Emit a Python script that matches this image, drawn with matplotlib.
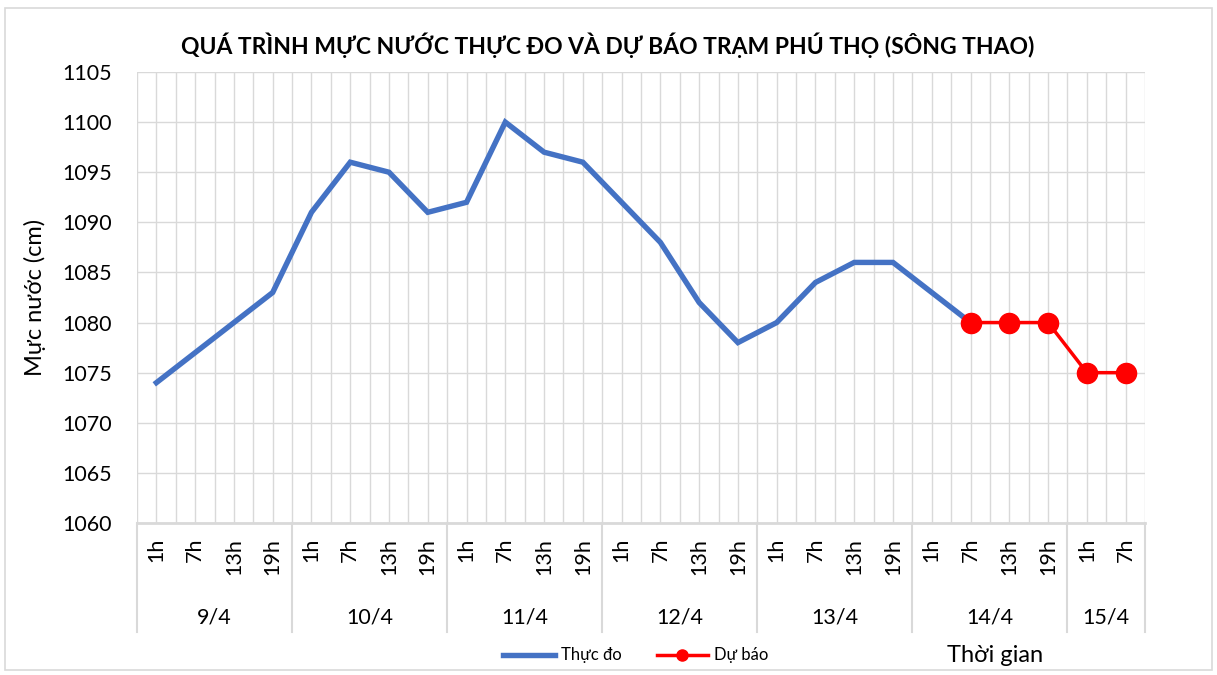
import matplotlib
matplotlib.use("Agg")
import matplotlib.pyplot as plt
from matplotlib.lines import Line2D
from matplotlib.patches import Rectangle
import numpy as np

plt.rcParams['font.family'] = ['Lato', 'DejaVu Sans']

# categories: day groups and hours
days = ['9/4', '10/4', '11/4', '12/4', '13/4', '14/4', '15/4']
hours_per_day = [['1h', '7h', '13h', '19h']] * 6 + [['1h', '7h']]
hour_labels = [h for hs in hours_per_day for h in hs]

# observed water level (cm), 9/4 1h .. 14/4 7h
observed = [1074, 1077, 1080, 1083,
            1091, 1096, 1095, 1091,
            1092, 1100, 1097, 1096,
            1092, 1088, 1082, 1078,
            1080, 1084, 1086, 1086,
            1083, 1080]
# forecast, 14/4 7h .. 15/4 7h
forecast = [1080, 1080, 1080, 1075, 1075]

title = 'QUÁ TRÌNH MỰC NƯỚC THỰC ĐO VÀ DỰ BÁO TRẠM PHÚ THỌ (SÔNG THAO)'

n = len(hour_labels)
x_obs = np.arange(len(observed))
x_fc = np.arange(len(observed) - 1, len(observed) - 1 + len(forecast))

fig = plt.figure(figsize=(12.17, 6.75), dpi=100)
ax = fig.add_axes([137/1217, 1-523/675, (1145-137)/1217, (523-72)/675])

grid_c = '#D9D9D9'
for xv in np.arange(-0.5, n, 0.5):
    ax.axvline(xv, color=grid_c, lw=1, zorder=0)
for yv in range(1060, 1106, 5):
    ax.axhline(yv, color=grid_c, lw=1, zorder=0)

ax.plot(x_obs, observed, color='#4472C4', lw=3.9, solid_joinstyle='miter', zorder=3)
ax.plot(x_fc, forecast, color='#FF0000', lw=2.5, marker='o', markersize=14.5, zorder=4)

ax.set_xlim(-0.5, n - 0.5)
ax.set_ylim(1060, 1105)
ax.set_yticks(range(1060, 1106, 5))
ax.tick_params(axis='y', length=0, labelsize=15.5, pad=18, colors='#000000')
ax.set_xticks([])
for s in ax.spines.values():
    s.set_visible(False)
ax.set_ylabel('Mực nước (cm)', fontsize=17, labelpad=12)

# multi-level category axis below
trans = ax.get_xaxis_transform()
ax_h = 523 - 72
def yfrac(py):
    return (523 - py) / ax_h

bounds = [-0.5]
pos = -0.5
for hs in hours_per_day:
    pos += len(hs)
    bounds.append(pos)
for b in bounds:
    ax.add_line(Line2D([b, b], [0, yfrac(632)], transform=trans, color=grid_c,
                       lw=1.5, clip_on=False))
ax.add_line(Line2D([-0.5, n - 0.5], [0, 0], transform=trans, color=grid_c,
                   lw=2, clip_on=False))

for i, lab in enumerate(hour_labels):
    ax.text(i, yfrac(538), lab, transform=trans, rotation=90, ha='center',
            va='top', fontsize=15.5)
start = -0.5
for d, hs in zip(days, hours_per_day):
    ax.text(start + len(hs) / 2, yfrac(617), d, transform=trans, ha='center',
            va='center', fontsize=15.5)
    start += len(hs)

fig.text(608/1217, 1-45/675, title, ha='center', va='center', fontsize=16.5,
         fontweight='bold')

# legend
ly = 1 - 655/675
fig.add_artist(Line2D([503/1217, 555/1217], [ly, ly], color='#4472C4', lw=3.9))
fig.text(561/1217, ly, 'Thực đo', va='center', fontsize=12)
fig.add_artist(Line2D([657/1217, 708/1217], [ly, ly], color='#FF0000', lw=2.5))
fig.add_artist(Line2D([682/1217], [ly], color='#FF0000', marker='o', markersize=8))
fig.text(714/1217, ly, 'Dự báo', va='center', fontsize=12)
fig.text(995/1217, ly, 'Thời gian', ha='center', va='center', fontsize=17)

fig.add_artist(Rectangle((5/1217, 5/675), 1207/1217, 662/675, transform=fig.transFigure,
                         fill=False, edgecolor='#D9D9D9', lw=1.2))

fig.savefig('out.png', dpi=100)
